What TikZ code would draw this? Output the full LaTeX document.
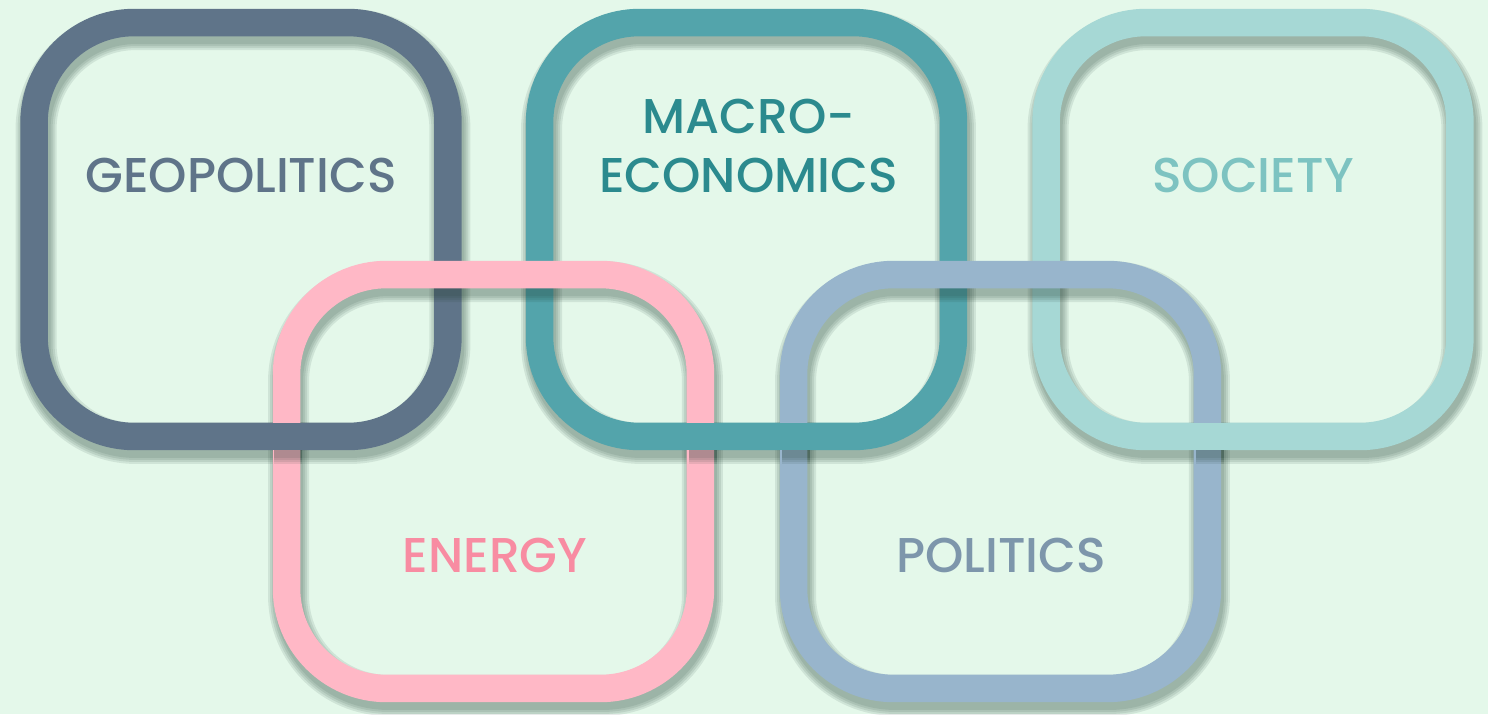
\documentclass[tikz,border=0pt]{standalone}
\usepackage{fontspec}
\setmainfont{Poppins Medium}

\definecolor{bgc}{HTML}{E4F8EA}
\definecolor{shadowc}{HTML}{1E3A30}
\definecolor{geoc}{HTML}{5F7489}
\definecolor{geotxt}{HTML}{5F7489}
\definecolor{macroc}{HTML}{53A4AB}
\definecolor{macrotxt}{HTML}{2B8A8E}
\definecolor{socc}{HTML}{A6D8D5}
\definecolor{soctxt}{HTML}{7DC3C1}
\definecolor{energyc}{HTML}{FFB8C6}
\definecolor{energytxt}{HTML}{F88CA2}
\definecolor{polc}{HTML}{98B5CC}
\definecolor{poltxt}{HTML}{7D96AB}

\tikzset{
    shadowlayer/.style={preaction={draw=shadowc, draw opacity=0.1, line width=#1,
        transform canvas={shift={(2,7)}}}},
    shadowed/.style={shadowlayer=0.82cm, shadowlayer=0.74cm, shadowlayer=0.66cm, shadowlayer=0.58cm},
    ring/.style={draw=#1, line width=0.55cm, rounded corners=2cm, minimum size=8.28cm,
        inner sep=0pt, shadowed},
    overpass/.style={draw=#1, line width=0.55cm},
    tag/.style={font=\fontsize{27.8}{34}\selectfont, anchor=base}
}

\begin{document}
\begin{tikzpicture}[x=0.02cm, y=-0.02cm]
    \fill[bgc] (0, 0) rectangle (1488, 714);
    \useasboundingbox (0, 0) rectangle (1488, 714);

    % upper row
    \node[ring=geoc] (geo) at (241, 229.5) {};
    \node[ring=macroc] (macro) at (746.5, 229.5) {};
    \node[ring=socc] (soc) at (1253, 229.5) {};

    % lower row
    \node[ring=energyc] (energy) at (493.5, 481.5) {};
    \node[ring=polc] (pol) at (1000.5, 481.5) {};

    % upper bottoms pass over the lower sides
    \path[shadowed] (272, 436.5) -- (300, 436.5);
    \path[shadowed] (686.5, 436.5) -- (714.5, 436.5);
    \path[shadowed] (779.5, 436.5) -- (807.5, 436.5);
    \path[shadowed] (1193.5, 436.5) -- (1221.5, 436.5);
    \draw[overpass=geoc] (262, 436.5) -- (312, 436.5);
    \draw[overpass=macroc] (676.5, 436.5) -- (747, 436.5) -- (817.5, 436.5);
    \draw[overpass=socc] (1183.5, 436.5) -- (1233.5, 436.5);

    \node[tag, text=geotxt] (geolabel) at (241, 192) {GEOPOLITICS};
    \node[tag, text=macrotxt] (macrolabel) at (749, 133) {MACRO-};
    \node[tag, text=macrotxt] (macrolabel2) at (748.5, 192) {ECONOMICS};
    \node[tag, text=soctxt] (soclabel) at (1253, 192) {SOCIETY};
    \node[tag, text=energytxt] (energylabel) at (495, 572) {ENERGY};
    \node[tag, text=poltxt] (pollabel) at (1001, 572) {POLITICS};
\end{tikzpicture}
\end{document}
